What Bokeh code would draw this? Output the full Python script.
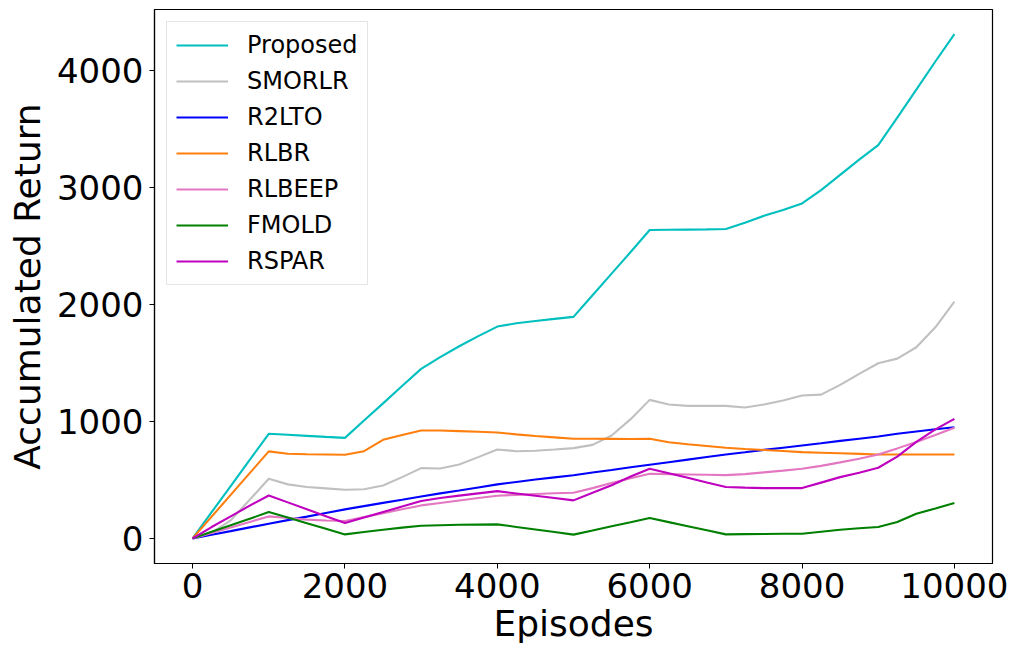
from bokeh.plotting import figure
from bokeh.models import Range1d, FixedTicker
from bokeh.embed import file_html
from bokeh.resources import INLINE

episodes = list(range(0, 10001, 250))

proposed = [0, 224, 448, 672, 895, 886, 877, 868, 860, 1008, 1155, 1303, 1450, 1550, 1644, 1730,
            1812, 1840, 1860, 1878, 1895, 2080, 2265, 2450, 2638, 2640, 2642, 2644, 2647, 2700,
            2760, 2810, 2866, 2980, 3110, 3240, 3365, 3600, 3840, 4080, 4314]
smorlr = [0, 50, 154, 330, 510, 462, 440, 428, 416, 420, 453, 524, 601, 598, 632, 695,
          761, 746, 750, 760, 772, 800, 880, 1020, 1185, 1145, 1134, 1134, 1134, 1120,
          1145, 1179, 1222, 1230, 1313, 1407, 1498, 1538, 1635, 1806, 2026]
r2lto = [0, 31, 62, 94, 125, 156, 186, 217, 248, 276, 304, 331, 359, 385, 410, 436,
         462, 483, 503, 522, 540, 563, 585, 608, 630, 652, 674, 696, 718, 737,
         757, 776, 795, 814, 834, 853, 872, 895, 914, 933, 951]
rlbr = [0, 186, 372, 558, 744, 724, 720, 718, 715, 746, 843, 885, 923, 923, 918, 912,
        906, 890, 876, 864, 852, 852, 851, 850, 852, 823, 805, 790, 775, 765,
        756, 747, 738, 733, 728, 723, 718, 718, 718, 718, 718]
rlbeep = [0, 47, 94, 141, 188, 174, 160, 153, 148, 182, 215, 249, 282, 303, 324, 345,
          365, 372, 379, 386, 390, 430, 473, 515, 553, 550, 547, 544, 541, 550,
          565, 580, 596, 620, 650, 682, 718, 770, 825, 885, 946]
fmold = [0, 56, 112, 168, 225, 178, 130, 82, 34, 55, 74, 92, 108, 112, 116, 118,
         120, 98, 76, 54, 32, 67, 103, 138, 174, 139, 104, 69, 34, 36,
         38, 39, 40, 57, 74, 86, 97, 140, 211, 256, 302]
rspar = [0, 97, 188, 280, 367, 308, 249, 190, 131, 178, 225, 272, 319, 345, 366, 385,
         404, 384, 364, 345, 325, 390, 455, 530, 596, 557, 518, 478, 439, 434,
         430, 430, 430, 477, 524, 562, 604, 700, 825, 932, 1023]

series_names = ["Proposed", "SMORLR", "R2LTO", "RLBR", "RLBEEP", "FMOLD", "RSPAR"]
series_values = [proposed, smorlr, r2lto, rlbr, rlbeep, fmold, rspar]
series_colors = ["#00BFBF", "#C0C0C0", "#0000FF", "#FF7F0E", "#E377C2", "#008000", "#BF00BF"]

x_ticks = [0, 2000, 4000, 6000, 8000, 10000]
y_ticks = [0, 1000, 2000, 3000, 4000]

p = figure(width=1021, height=658, output_backend="svg", toolbar_location=None,
           x_range=Range1d(-500, 10500), y_range=Range1d(-215, 4525),
           min_border_left=154, min_border_right=29, min_border_top=9, min_border_bottom=95)

for name, vals, col in zip(series_names, series_values, series_colors):
    p.line(episodes, vals, line_color=col, line_width=2.1, legend_label=name)

p.xgrid.visible = False
p.ygrid.visible = False
p.outline_line_color = "black"
p.outline_line_width = 1.2

p.xaxis.ticker = FixedTicker(ticks=x_ticks)
p.yaxis.ticker = FixedTicker(ticks=y_ticks)
p.xaxis.axis_label = "Episodes"
p.yaxis.axis_label = "Accumulated Return"

for ax in (p.xaxis, p.yaxis):
    ax.axis_label_text_font = "DejaVu Sans"
    ax.axis_label_text_font_size = "36px"
    ax.axis_label_text_font_style = "normal"
    ax.axis_label_text_color = "black"
    ax.major_label_text_font = "DejaVu Sans"
    ax.major_label_text_font_size = "34px"
    ax.major_label_text_color = "black"
    ax.minor_tick_line_color = None
    ax.major_tick_in = 0
    ax.major_tick_out = 5
    ax.major_tick_line_color = "black"
    ax.axis_line_color = "black"
    ax.axis_line_width = 1.2
p.xaxis.major_label_standoff = 4
p.yaxis.major_label_standoff = 6
p.xaxis.axis_label_standoff = 2
p.yaxis.axis_label_standoff = 6

lg = p.legend[0]
lg.location = "top_left"
lg.margin = 12
lg.padding = 9
lg.spacing = 8
lg.label_text_font = "DejaVu Sans"
lg.label_text_font_size = "24px"
lg.label_text_color = "black"
lg.label_height = 24
lg.glyph_height = 24
lg.glyph_width = 52
lg.label_standoff = 19
lg.border_line_color = "#CCCCCC"
lg.border_line_width = 1
lg.background_fill_alpha = 0.8

open("out.html", "w").write(file_html(p, INLINE))
